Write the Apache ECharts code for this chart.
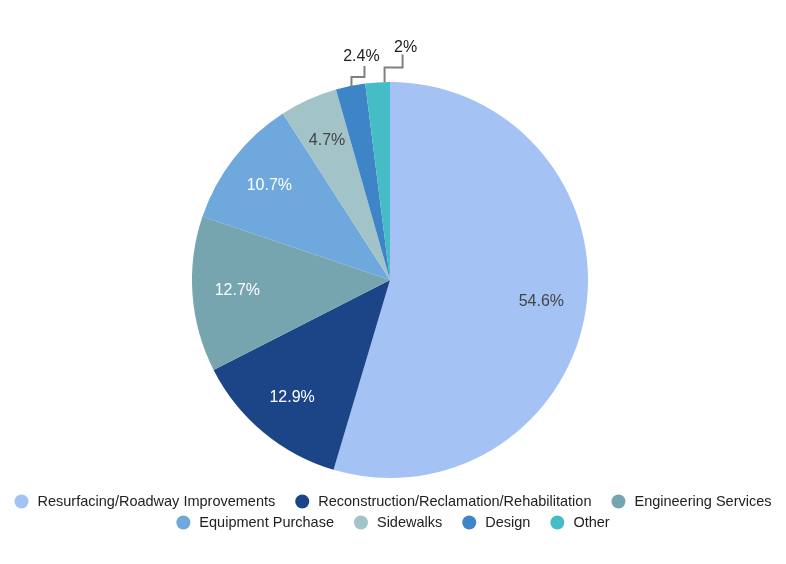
<!DOCTYPE html>
<html>
<head>
<meta charset="utf-8">
<script src="https://cdn.jsdelivr.net/npm/echarts@6/dist/echarts.min.js"></script>
<style>
html,body{margin:0;padding:0;background:#fff;}
#chart{width:786px;height:564px;}
</style>
</head>
<body>
<div id="chart"></div>
<script>
// ---- data ----
var categories = [
  'Resurfacing/Roadway Improvements',
  'Reconstruction/Reclamation/Rehabilitation',
  'Engineering Services',
  'Equipment Purchase',
  'Sidewalks',
  'Design',
  'Other'
];
var values = [54.6, 12.9, 12.7, 10.7, 4.7, 2.4, 2];
var legendRow1 = categories.slice(0, 3);
var legendRow2 = categories.slice(3);

// ---- style ----
var colors = ['#a4c2f4', '#1c4587', '#76a5af', '#6fa8dc', '#a2c4c9', '#3d85c6', '#46bdc6'];
var labelColors = ['#444444', '#ffffff', '#ffffff', '#ffffff', '#444444', '#222222', '#222222'];
var CX = 390, CY = 280, R = 198;
var insideScale = 1.5;
var outsideThreshold = 3;
var leader = {
  'Design': { shift: 1, rise1: 9, run: 13, rise2: 11, labelDx: -3, labelDy: -1 },
  'Other':  { shift: 7, rise1: 15, run: 18, rise2: 13, labelDx: 3, labelDy: 1 }
};

var chart = echarts.init(document.getElementById('chart'), null, { renderer: 'canvas' });

var seriesData = categories.map(function (name, i) {
  var outside = values[i] < outsideThreshold;
  return {
    name: name,
    value: values[i],
    label: {
      position: outside ? 'outside' : 'inside',
      color: labelColors[i]
    },
    labelLine: { show: outside }
  };
});

var legendBase = {
  left: 'center',
  icon: 'circle',
  itemWidth: 14,
  itemHeight: 14,
  itemGap: 20,
  textStyle: {
    fontFamily: 'Liberation Sans, Arial, sans-serif',
    fontSize: 14.5,
    color: '#222222',
    padding: [0, 0, 0, 4]
  }
};

chart.setOption({
  backgroundColor: '#ffffff',
  color: colors,
  animation: false,
  legend: [
    Object.assign({}, legendBase, { top: 489, data: legendRow1 }),
    Object.assign({}, legendBase, { top: 510, data: legendRow2 })
  ],
  series: [{
    type: 'pie',
    center: [CX, CY],
    radius: R,
    startAngle: 90,
    clockwise: true,
    avoidLabelOverlap: false,
    label: {
      show: true,
      formatter: function (p) { return p.value + '%'; },
      fontFamily: 'Liberation Sans, Arial, sans-serif',
      fontSize: 16
    },
    labelLine: {
      show: false,
      length: 10,
      length2: 10,
      lineStyle: { color: '#808080', width: 2 }
    },
    labelLayout: function (p) {
      var i = p.dataIndex;
      var name = categories[i];
      if (values[i] < outsideThreshold && p.labelLinePoints) {
        var cfg = leader[name] || { shift: 0, rise1: 8, run: 12, rise2: 10, labelDx: 0, labelDy: 0 };
        var s = p.labelLinePoints[0];
        var x0 = s[0] + cfg.shift, y0 = s[1];
        var p1 = [x0, y0 - cfg.rise1];
        var p2 = [x0 + cfg.run, y0 - cfg.rise1];
        var p3 = [x0 + cfg.run, y0 - cfg.rise1 - cfg.rise2];
        return {
          x: p3[0] + cfg.labelDx,
          y: p3[1] + cfg.labelDy,
          align: 'center',
          verticalAlign: 'bottom',
          labelLinePoints: [[x0, y0], p1, p2, p3]
        };
      }
      var lx = p.labelRect.x + p.labelRect.width / 2;
      var ly = p.labelRect.y + p.labelRect.height / 2;
      return {
        x: CX + (lx - CX) * insideScale,
        y: CY + (ly - CY) * insideScale,
        align: 'center',
        verticalAlign: 'middle'
      };
    },
    data: seriesData
  }]
});
</script>
</body>
</html>
